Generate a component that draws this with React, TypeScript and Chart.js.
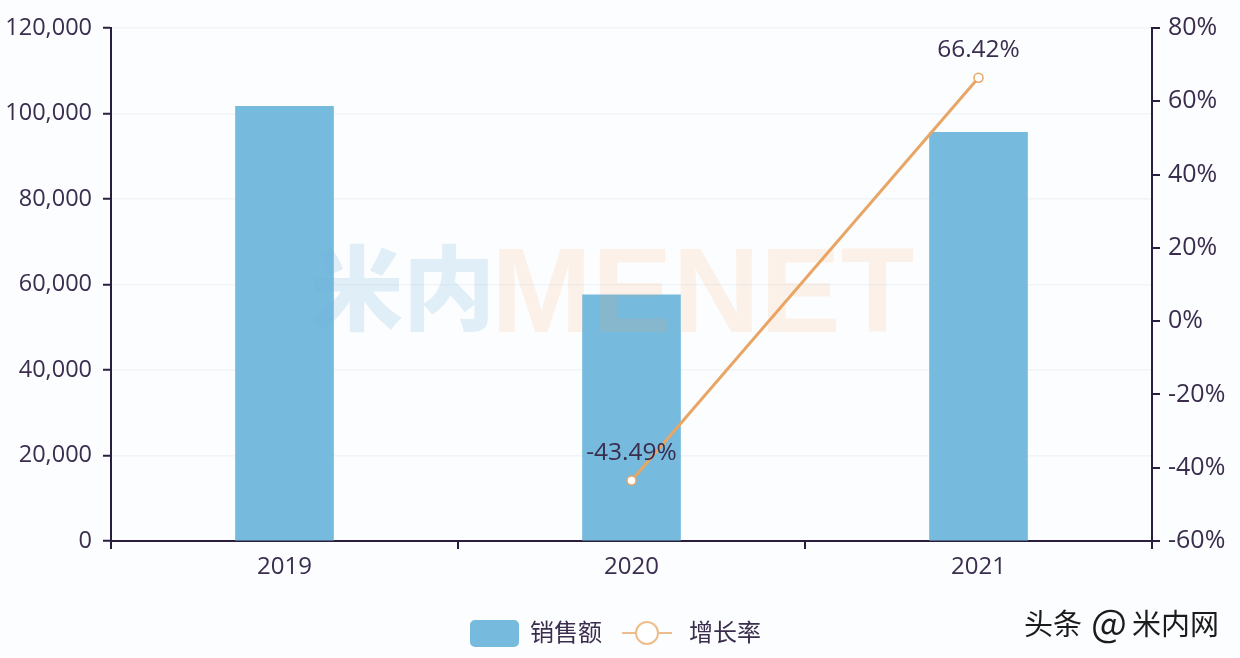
import { useEffect, useRef } from 'react'
import { Chart, registerables } from 'chart.js'

Chart.register(...registerables)

const years = ['2019', '2020', '2021']
const sales = [101700, 57600, 95600]
const growth = [null, -43.49, 66.42]
const salesName = '销售额'
const growthName = '增长率'
const growthLabels = ['', '-43.49%', '66.42%']

const INK = '#2a1e3f'
const TEXT = '#3a2d4e'
const BAR = '#76bade'
const LINE = '#e8a666'
const FONT = '"Open Sans", sans-serif'
const CJK = '"Noto Sans CJK SC", sans-serif'

// 数据标签
const pointLabels = {
  id: 'pointLabels',
  afterDatasetsDraw(chart: Chart) {
    const { ctx } = chart
    const meta = chart.getDatasetMeta(1)
    ctx.save()
    ctx.font = `24.5px ${FONT}`
    ctx.fillStyle = TEXT
    ctx.textAlign = 'center'
    ctx.textBaseline = 'bottom'
    meta.data.forEach((pt, i) => {
      if (!growthLabels[i]) return
      ctx.fillText(growthLabels[i], pt.x, pt.y - 15)
    })
    ctx.restore()
  },
}

// 水印
const watermark = {
  id: 'watermark',
  afterDatasetsDraw(chart: Chart) {
    const { ctx } = chart
    ctx.save()
    ctx.textBaseline = 'alphabetic'
    ctx.textAlign = 'left'
    ctx.font = `900 92px ${CJK}`
    ctx.fillStyle = 'rgba(116,178,222,0.2)'
    ctx.fillText('米内', 311, 323)
    ctx.font = 'bold 121px "Liberation Sans", sans-serif'
    ctx.fillStyle = 'rgba(250,165,90,0.13)'
    ctx.fillText('MENET', 491, 332)
    ctx.restore()
  },
}

// 图例 + 来源
const bottomLegend = {
  id: 'bottomLegend',
  afterDraw(chart: Chart) {
    const { ctx } = chart
    ctx.save()
    ctx.fillStyle = BAR
    ctx.beginPath()
    ctx.roundRect(470, 620, 49, 27, 5)
    ctx.fill()

    ctx.strokeStyle = '#eebd8c'
    ctx.lineWidth = 2
    ctx.beginPath()
    ctx.moveTo(622, 633)
    ctx.lineTo(672, 633)
    ctx.stroke()
    ctx.beginPath()
    ctx.arc(647, 633, 11, 0, Math.PI * 2)
    ctx.fillStyle = '#ffffff'
    ctx.fill()
    ctx.stroke()

    ctx.font = `24px ${CJK}`
    ctx.fillStyle = TEXT
    ctx.textAlign = 'left'
    ctx.textBaseline = 'middle'
    ctx.fillText(salesName, 530, 632)
    ctx.fillText(growthName, 689, 632)

    ctx.font = `29px ${CJK}`
    ctx.fillStyle = '#1c1c1c'
    ctx.fillText('头条', 1024, 624)
    ctx.fillText('米内网', 1132, 624)
    ctx.font = `38px ${CJK}`
    ctx.fillText('@', 1091, 623)
    ctx.restore()
  },
}

export default function App() {
  const canvasRef = useRef<HTMLCanvasElement | null>(null)

  useEffect(() => {
    if (!canvasRef.current) return
    const chart = new Chart(canvasRef.current, {
      type: 'bar',
      data: {
        labels: years,
        datasets: [
          {
            type: 'bar',
            label: salesName,
            data: sales,
            yAxisID: 'y',
            backgroundColor: BAR,
            barThickness: 98,
            order: 2,
          },
          {
            type: 'line',
            label: growthName,
            data: growth,
            yAxisID: 'y1',
            borderColor: LINE,
            borderWidth: 3,
            pointRadius: 4.5,
            pointBorderWidth: 1.5,
            pointBackgroundColor: '#ffffff',
            pointBorderColor: LINE,
            order: 1,
          },
        ],
      },
      options: {
        responsive: false,
        animation: false,
        devicePixelRatio: 1,
        layout: { padding: { top: 28 } },
        plugins: {
          legend: { display: false },
          tooltip: { enabled: false },
        },
        scales: {
          x: {
            offset: true,
            afterFit: (scale) => {
              scale.height = 117
            },
            grid: { offset: true, drawOnChartArea: false, tickLength: 8, tickColor: INK, lineWidth: 2 },
            border: { color: INK, width: 2 },
            ticks: { color: TEXT, font: { family: FONT, size: 24 }, padding: 4, maxRotation: 0 },
          },
          y: {
            position: 'left',
            min: 0,
            max: 120000,
            afterFit: (scale) => {
              scale.width = 111
            },
            grid: { color: '#f0f5f9', lineWidth: 1.5, tickLength: 8, tickColor: INK, tickWidth: 2 },
            border: { color: INK, width: 2 },
            ticks: {
              stepSize: 20000,
              color: TEXT,
              padding: 11,
              font: { family: FONT, size: 23.5 },
              callback: (v) => Number(v).toLocaleString('en-US'),
            },
          },
          y1: {
            position: 'right',
            min: -60,
            max: 80,
            afterFit: (scale) => {
              scale.width = 88
            },
            grid: { drawOnChartArea: false, tickLength: 8, tickColor: INK, lineWidth: 2 },
            border: { color: INK, width: 2 },
            ticks: {
              stepSize: 20,
              color: TEXT,
              padding: 8,
              font: { family: FONT, size: 25 },
              callback: (v) => `${v}%`,
            },
          },
        },
      },
      plugins: [watermark, pointLabels, bottomLegend],
    })

    return () => chart.destroy()
  }, [])

  return (
    <div style={{ position: 'fixed', inset: 0, background: '#fcfdfe' }}>
      <canvas ref={canvasRef} width={1240} height={658} style={{ display: 'block' }} />
    </div>
  )
}
